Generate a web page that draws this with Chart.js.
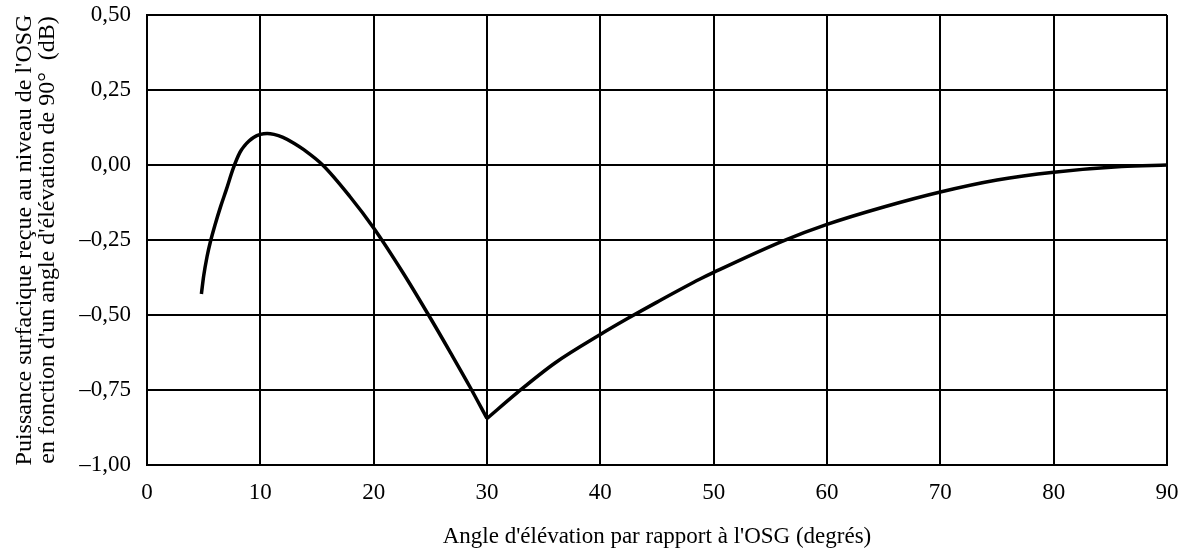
<!DOCTYPE html>
<html>
<head>
<meta charset="utf-8">
<script src="https://cdn.jsdelivr.net/npm/chart.js@4"></script>
<style>
  html, body { margin: 0; padding: 0; background: #fff; }
  #wrap { width: 1192px; height: 555px; }
</style>
</head>
<body>
<div id="wrap"><canvas id="pfdChart"></canvas></div>
<script>
// elevation angle (deg) and relative pfd (dB)
const angleLeft = [4.8, 5.0, 5.3, 5.6, 6.0, 6.5, 7.0, 7.6, 8.2, 8.6, 9.0, 9.4, 10.0, 10.6, 11.2, 12.0, 13.0, 13.8, 15.5, 17.9, 20.0, 22.6, 25.0, 26.8, 28.5, 30.0];
const pfdLeft   = [-0.43, -0.37, -0.305, -0.255, -0.2, -0.138, -0.082, -0.012, 0.042, 0.064, 0.08, 0.092, 0.102, 0.105, 0.102, 0.092, 0.072, 0.052, 0.0, -0.105, -0.21, -0.36, -0.51, -0.627, -0.74, -0.845];
const angleRight = [30.0, 32.7, 36.0, 40.0, 42.4, 45.0, 48.8, 50.0, 56.2, 60.0, 65.0, 70.0, 75.0, 80.0, 86.0, 90.0];
const pfdRight   = [-0.845, -0.758, -0.66, -0.565, -0.512, -0.457, -0.38, -0.358, -0.252, -0.198, -0.14, -0.09, -0.05, -0.024, -0.005, 0.0];

const xTicks = [0, 10, 20, 30, 40, 50, 60, 70, 80, 90];
const yTicks = [-1.0, -0.75, -0.5, -0.25, 0.0, 0.25, 0.5];

const serif = 'Liberation Serif';

const toXY = (xs, ys) => xs.map((x, i) => ({ x: x, y: ys[i] }));

const ctx = document.getElementById('pfdChart');

new Chart(ctx, {
    type: 'line',
    data: {
        datasets: [{
            data: toXY(angleLeft, pfdLeft),
            borderColor: '#000',
            borderWidth: 3.5,
            pointRadius: 0,
            cubicInterpolationMode: 'monotone',
            fill: false
        }, {
            data: toXY(angleRight, pfdRight),
            borderColor: '#000',
            borderWidth: 3.5,
            pointRadius: 0,
            cubicInterpolationMode: 'monotone',
            fill: false
        }]
    },
    options: {
        responsive: true,
        maintainAspectRatio: false,
        animation: false,
        layout: { padding: { top: 15, right: 25, left: 0, bottom: 0 } },
        plugins: {
            legend: { display: false },
            tooltip: { enabled: false }
        },
        scales: {
            x: {
                type: 'linear',
                min: 0,
                max: 90,
                afterBuildTicks: s => { s.ticks = xTicks.map(v => ({ value: v })); },
                afterFit: s => { s.height = 90; s.paddingLeft = 0; s.paddingRight = 0; },
                grid: { color: '#000', lineWidth: 2, drawTicks: false },
                border: { color: '#000', width: 2 },
                ticks: {
                    color: '#000',
                    padding: 14,
                    font: { family: serif, size: 23 }
                },
                title: {
                    display: true,
                    text: "Angle d'élévation par rapport à l'OSG (degrés)",
                    color: '#000',
                    font: { family: serif, size: 23 },
                    padding: { top: 15 }
                }
            },
            y: {
                min: -1,
                max: 0.5,
                afterBuildTicks: s => { s.ticks = yTicks.map(v => ({ value: v })); },
                afterFit: s => { s.width = 147; s.paddingTop = 0; s.paddingBottom = 0; },
                grid: { color: '#000', lineWidth: 2, drawTicks: false },
                border: { color: '#000', width: 2 },
                ticks: {
                    color: '#000',
                    padding: 16,
                    font: { family: serif, size: 23 },
                    callback: v => v.toFixed(2).replace('.', ',').replace('-', '\u2013')
                },
                title: {
                    display: true,
                    text: ["Puissance surfacique reçue au niveau de l'OSG",
                           "en fonction d'un angle d'élévation de 90°  (dB)"],
                    color: '#000',
                    font: { family: serif, size: 24, lineHeight: 0.96 },
                    padding: { top: 13, bottom: 0 }
                }
            }
        }
    }
});
</script>
</body>
</html>
